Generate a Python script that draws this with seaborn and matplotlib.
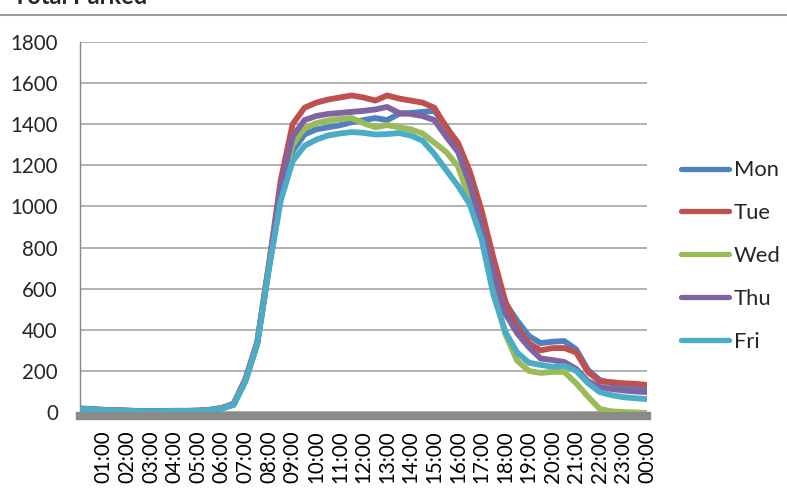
import numpy as np
import pandas as pd
import matplotlib
matplotlib.use("Agg")
import matplotlib.pyplot as plt
from matplotlib.lines import Line2D
import seaborn as sns

# Half-hourly occupancy, 00:00 .. 24:00
hours = np.arange(49) * 0.5

mon = [15, 12, 10, 8, 6, 4, 3, 4, 5, 5, 6, 10, 18, 35, 150, 330, 700, 1050,
       1270, 1350, 1375, 1385, 1395, 1410, 1420, 1430, 1420, 1450, 1455, 1460, 1465,
       1390, 1300, 1110, 930, 700, 530, 445, 370, 335, 342, 345, 305, 205, 155, 140,
       125, 118, 112]
tue = [18, 14, 11, 9, 7, 5, 4, 5, 6, 6, 7, 11, 20, 40, 160, 340, 720, 1130,
       1400, 1480, 1505, 1520, 1530, 1540, 1530, 1515, 1540, 1525, 1515, 1505, 1480,
       1385, 1310, 1170, 980, 750, 540, 410, 335, 300, 311, 311, 290, 195, 150, 145,
       140, 137, 132]
wed = [12, 10, 9, 7, 5, 3, 2, 3, 4, 4, 5, 9, 16, 35, 150, 335, 720, 1080,
       1300, 1380, 1405, 1418, 1425, 1430, 1405, 1385, 1396, 1385, 1375, 1355, 1310,
       1265, 1195, 1030, 870, 600, 380, 250, 200, 190, 195, 195, 140, 75, 15, 3,
       0, -2, -5]
thu = [14, 12, 10, 8, 6, 4, 3, 4, 5, 5, 6, 10, 18, 38, 155, 335, 715, 1100,
       1340, 1420, 1440, 1450, 1455, 1460, 1465, 1472, 1484, 1455, 1450, 1440, 1420,
       1340, 1265, 1110, 900, 680, 480, 384, 315, 260, 253, 243, 210, 150, 122, 112,
       105, 100, 97]
fri = [16, 13, 10, 8, 6, 4, 3, 4, 5, 5, 6, 10, 18, 35, 150, 330, 700, 1030,
       1220, 1295, 1325, 1345, 1355, 1362, 1358, 1350, 1352, 1357, 1345, 1320, 1255,
       1177, 1100, 1010, 840, 570, 390, 290, 240, 229, 220, 225, 200, 141, 97, 82,
       72, 67, 63]

days = ["Mon", "Tue", "Wed", "Thu", "Fri"]
colors = ["#4F81BD", "#C0504D", "#9BBB59", "#8064A2", "#4BACC6"]
tick_hours = list(range(1, 25))
tick_labels = [f"{h % 24:02d}:00" for h in tick_hours]
y_ticks = list(range(0, 1801, 200))

df = pd.concat(
    [pd.DataFrame({"hour": hours, "parked": vals, "day": d})
     for d, vals in zip(days, [mon, tue, wed, thu, fri])],
    ignore_index=True,
)

sns.set_style("white")
plt.rcParams["font.family"] = ["Lato", "DejaVu Sans"]

W, H = 787, 493
fig = plt.figure(figsize=(W / 100, H / 100), dpi=100)
ax = fig.add_axes([80 / W, 1 - 412 / H, (647 - 80) / W, (412 - 42) / H])

sns.lineplot(data=df, x="hour", y="parked", hue="day", hue_order=days,
             palette=colors, linewidth=4.2, ax=ax, legend=False, zorder=3)

# spines first: repositioning a spine resets its axis ticks
for s in ("top", "right"):
    ax.spines[s].set_visible(False)
ax.spines["left"].set_color("#888888")
ax.spines["left"].set_linewidth(1)
ax.spines["bottom"].set_color("#8A8A8A")
ax.spines["bottom"].set_linewidth(6)
ax.spines["bottom"].set_position(("outward", 3))

ax.set_xlim(0, 24)
ax.set_ylim(0, 1800)
ax.set_xticks(tick_hours)
ax.set_xticklabels(tick_labels, rotation=90, fontsize=14.8)
ax.set_yticks(y_ticks)
ax.set_yticklabels([str(v) for v in y_ticks], fontsize=14.8)
ax.set_xlabel("")
ax.set_ylabel("")
ax.tick_params(axis="x", length=0, pad=10, colors="black")
ax.tick_params(axis="y", length=5, width=1, color="#888888", pad=11)

ax.yaxis.grid(True, color="#ABABAB", linewidth=1.3, zorder=0)
ax.xaxis.grid(False)
ax.set_axisbelow(True)

handles = [Line2D([], [], color=c, lw=3.8, solid_capstyle="round") for c in colors]
fig.legend(handles, days, loc="center left", bbox_to_anchor=(681 / W, 1 - 256 / H),
           frameon=False, fontsize=15.8, handlelength=2.2, handletextpad=0.2,
           labelspacing=1.04, borderpad=0, borderaxespad=0)

fig.add_artist(Line2D([0, 1], [1 - 15 / H] * 2, color="#9C9C9C", lw=1.5))
fig.text(13 / W, 1 - 3.5 / H, "Total Parked", fontsize=17, fontweight="bold",
         va="baseline", ha="left")

fig.savefig("out.png", dpi=100)
